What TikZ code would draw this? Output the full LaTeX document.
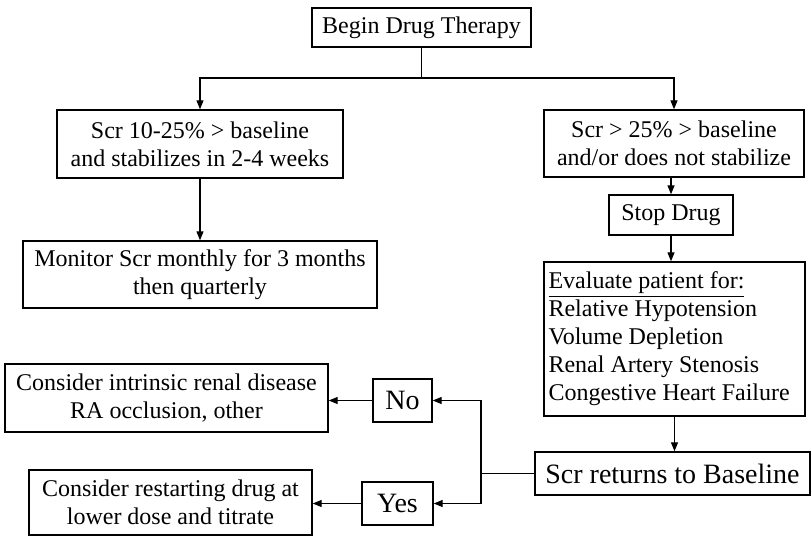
\documentclass[tikz,border=0pt]{standalone}
\usepackage{fontspec}
\setmainfont{Liberation Serif}
\usetikzlibrary{arrows.meta}

\begin{document}
\begin{tikzpicture}[x=0.5pt, y=-0.5pt,
		box/.style={draw, line width=0.7pt, inner sep=0pt, align=center, font=\fontsize{12}{14}\selectfont},
		bigbox/.style={box, font=\fontsize{14}{16}\selectfont},
		arr/.style={line width=0.6pt, arrows={-{Triangle[length=4.5pt, width=3.5pt]}}}]
		\useasboundingbox (0, 0) rectangle (812, 536);

		%%% Top
		\node[box, minimum width=109.5pt, minimum height=19.5pt] (begin) at (421.5, 27.5) {Begin Drug Therapy};
		\coordinate (split) at (421.5, 78);

		%%% Left branch
		\node[box, minimum width=143pt, minimum height=34pt] (stab) at (200, 144) {Scr 10-25\% > baseline\\and stabilizes in 2-4 weeks};
		\node[box, minimum width=177pt, minimum height=33.5pt] (monitor) at (200, 274.5) {Monitor Scr monthly for 3 months\\then quarterly};

		%%% Right branch
		\node[box, minimum width=130pt, minimum height=33.5pt] (nostab) at (674, 143.5) {Scr > 25\% > baseline\\and/or does not stabilize};
		\node[box, minimum width=62pt, minimum height=20pt] (stop) at (671, 215) {Stop Drug};
		\node[box, align=flush left, text width=126pt, inner xsep=2.25pt, minimum height=77pt] (evaluate) at (674.5, 339) {\underline{Evaluate patient for:}\\Relative Hypotension\\Volume Depletion\\Renal Artery Stenosis\\Congestive Heart Failure};
		\node[bigbox, minimum width=137.5pt, minimum height=21.5pt] (returns) at (672.5, 473.5) {Scr returns to Baseline};
		\coordinate (fork) at (481, 473.5);

		%%% Outcomes
		\node[bigbox, minimum width=29.5pt, minimum height=21.5pt] (no) at (402.5, 400.5) {No};
		\node[bigbox, minimum width=35.5pt, minimum height=21.5pt] (yes) at (397.5, 503.5) {Yes};
		\node[box, minimum width=161.5pt, minimum height=34pt] (intrinsic) at (166.5, 398) {Consider intrinsic renal disease\\RA occlusion, other};
		\node[box, minimum width=141.5pt, minimum height=32.5pt] (restart) at (170.5, 502.5) {Consider restarting drug at\\lower dose and titrate};

		%%% Connectors
		\draw[line width=0.6pt] (begin) -- (split);
		\draw[arr] (split) -| (stab);
		\draw[arr] (split) -| (nostab);
		\draw[arr] (stab) -- (monitor.north -| stab);
		\draw[arr] (nostab.south -| stop) -- (stop);
		\draw[arr] (stop) -- (evaluate.north -| stop);
		\draw[arr] (evaluate.south) -- (evaluate.south |- returns.north);
		\draw[line width=0.6pt] (returns.west) -- (fork);
		\draw[arr] (fork) |- (no);
		\draw[arr] (fork) |- (yes);
		\draw[arr] (no.west) -- (no.west -| intrinsic.east);
		\draw[arr] (yes.west) -- (yes.west -| restart.east);
\end{tikzpicture}
\end{document}
